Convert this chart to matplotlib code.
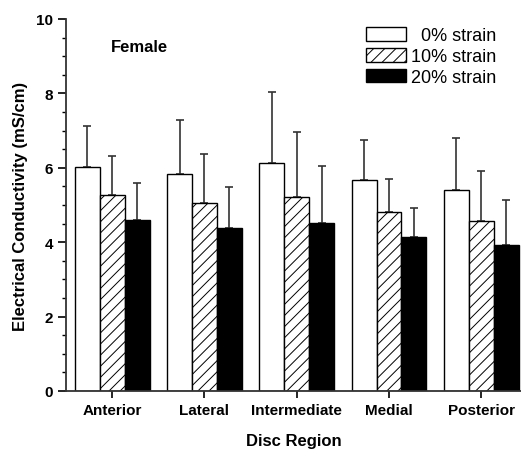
import numpy as np
import matplotlib
matplotlib.use('Agg')
import matplotlib.pyplot as plt
from matplotlib.patches import Patch

plt.rcParams['font.family'] = ['Liberation Sans', 'DejaVu Sans']
plt.rcParams['hatch.linewidth'] = 0.7
plt.rcParams['hatch.color'] = '#444444'

regions = ['Anterior', 'Lateral', 'Intermediate', 'Medial', 'Posterior']
series = ['  0% strain', '10% strain', '20% strain']

mean0 = [6.02, 5.83, 6.12, 5.67, 5.40]
sd0 = [1.10, 1.46, 1.92, 1.08, 1.40]
mean10 = [5.27, 5.05, 5.21, 4.81, 4.57]
sd10 = [1.05, 1.32, 1.75, 0.89, 1.34]
mean20 = [4.60, 4.38, 4.51, 4.14, 3.92]
sd20 = [0.99, 1.10, 1.54, 0.78, 1.21]

fig = plt.figure(figsize=(5.21, 4.56), dpi=100)
ax = fig.add_axes([0.1267, 0.1404, 0.8733, 0.8158])

x = np.arange(len(regions))
w = 0.27
styles = [dict(color='white', hatch=None), dict(color='white', hatch='///'), dict(color='black', hatch=None)]
means = [mean0, mean10, mean20]
sds = [sd0, sd10, sd20]
handles = []
for i in range(3):
    xs = x + (i - 1) * w
    ax.errorbar(xs, means[i], yerr=[np.zeros(5), sds[i]], fmt='none', ecolor='#333333',
                elinewidth=1.2, capsize=3, capthick=1.2, zorder=1)
    ax.bar(xs, means[i], w, facecolor=styles[i]['color'], edgecolor='black',
           hatch=styles[i]['hatch'], linewidth=1.0, zorder=2)
    handles.append(Patch(facecolor=styles[i]['color'], edgecolor='black',
                         hatch=styles[i]['hatch'], linewidth=1.0, label=series[i]))

ax.set_xlim(-0.5, 4.43)
ax.set_ylim(0, 10)
ax.set_xticks(x)
ax.set_xticklabels(regions, fontsize=11, fontweight='bold')
ax.set_yticks([0, 2, 4, 6, 8, 10])
ax.set_yticks(np.arange(0, 10.01, 0.5), minor=True)
ax.set_yticklabels(['0', '2', '4', '6', '8', '10'], fontsize=11, fontweight='bold')
ax.tick_params(axis='y', which='major', direction='out', length=6, width=1.2)
ax.tick_params(axis='y', which='minor', direction='out', length=3, width=1.0)
ax.tick_params(axis='x', which='major', direction='out', length=5, width=1.2)
ax.tick_params(axis='x', which='minor', bottom=False)
for s in ['top', 'right']:
    ax.spines[s].set_visible(False)
for s in ['left', 'bottom']:
    ax.spines[s].set_linewidth(1.3)
    ax.spines[s].set_color('#333333')

ax.set_xlabel('Disc Region', fontsize=12, fontweight='bold', labelpad=12)
ax.set_ylabel('Electrical Conductivity (mS/cm)', fontsize=12, fontweight='bold', labelpad=5.5)
ax.text(0.30, 9.25, 'Female', fontsize=12, fontweight='bold', ha='center', va='center')

fig.legend(handles=handles, loc='upper left', bbox_to_anchor=(366 / 521, 1 - 28 / 456),
           frameon=False, fontsize=13, handlelength=2.2, handleheight=0.8,
           labelspacing=0.2, handletextpad=0.3, borderpad=0, borderaxespad=0)

fig.savefig('out.png', dpi=100)
